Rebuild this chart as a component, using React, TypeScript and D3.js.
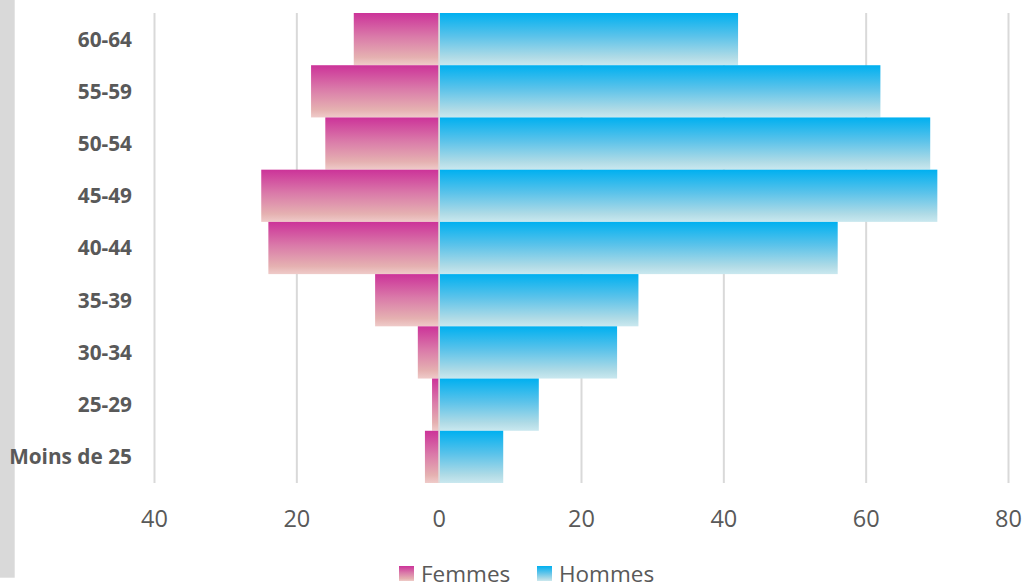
import React from "react";
import * as d3 from "d3";

const categories = ["60-64", "55-59", "50-54", "45-49", "40-44", "35-39", "30-34", "25-29", "Moins de 25"];
const femmes = [12, 18, 16, 25, 24, 9, 3, 1, 2];
const hommes = [42, 62, 69, 70, 56, 28, 25, 14, 9];
const tickValues = [-40, -20, 0, 20, 40, 60, 80];
const seriesNames = ["Femmes", "Hommes"];

const W = 1022;
const H = 583;
const TEXT = "#595959";
const GRID = "#d9d9d9";
const FONT = "'Open Sans', 'DejaVu Sans', sans-serif";

export default function App() {
  const x = d3.scaleLinear().domain([-40, 80]).range([154.5, 1008.5]);
  const y = d3.scaleBand().domain(categories).range([13, 483]).padding(0);
  const bw = y.bandwidth();
  const [top, bottom] = y.range();

  return (
    <svg
      width={W}
      height={H}
      style={{ position: "absolute", left: 0, top: 0, background: "#fff" }}
    >
      <defs>
        <linearGradient id="gradF" x1="0" y1="0" x2="0" y2="1">
          <stop offset="0" stopColor="#cc3399" />
          <stop offset="0.45" stopColor="#da7aa9" />
          <stop offset="0.85" stopColor="#e5b1b1" />
          <stop offset="1" stopColor="#efcbc9" />
        </linearGradient>
        <linearGradient id="gradH" x1="0" y1="0" x2="0" y2="1">
          <stop offset="0" stopColor="#00b0f0" />
          <stop offset="0.45" stopColor="#5cc3ea" />
          <stop offset="0.85" stopColor="#b0dbe6" />
          <stop offset="1" stopColor="#cae8ef" />
        </linearGradient>
      </defs>

      {/* grey strip along the left edge */}
      <rect x={0} y={0} width={14.7} height={577.7} fill="#d9d9d9" />

      {/* vertical gridlines */}
      {tickValues.map((t) => (
        <line key={"g" + t} x1={x(t)} x2={x(t)} y1={top} y2={bottom} stroke={GRID} strokeWidth={2} />
      ))}

      {/* women to the left of zero */}
      {categories.map((c, i) => (
        <rect key={"f" + c} x={x(-femmes[i])} y={y(c)} width={x(0) - x(-femmes[i]) - 0.5} height={bw} fill="url(#gradF)" />
      ))}

      {/* men to the right of zero */}
      {categories.map((c, i) => (
        <rect key={"h" + c} x={x(0) + 0.5} y={y(c)} width={x(hommes[i]) - x(0) - 0.5} height={bw} fill="url(#gradH)" />
      ))}

      {/* zero axis */}
      <line x1={x(0)} x2={x(0)} y1={top} y2={bottom} stroke="#dcdcdc" strokeWidth={1.5} />

      {/* category labels */}
      {categories.map((c) => (
        <text
          key={"l" + c}
          x={132}
          y={y(c)! + bw / 2}
          dy="0.36em"
          textAnchor="end"
          fontFamily={FONT}
          fontWeight={700}
          fontSize={20.8}
          fill={TEXT}
        >
          {c}
        </text>
      ))}

      {/* value axis labels */}
      {tickValues.map((t) => (
        <text key={"t" + t} x={x(t)} y={527} textAnchor="middle" fontFamily={FONT} fontSize={23.5} fill={TEXT}>
          {Math.abs(t)}
        </text>
      ))}

      {/* legend */}
      {seriesNames.map((n, i) => {
        const lx = i === 0 ? 399 : 537;
        return (
          <g key={"leg" + n}>
            <rect x={lx} y={566} width={15} height={15} fill={i === 0 ? "url(#gradF)" : "url(#gradH)"} />
            <text x={lx + 22} y={581.5} fontFamily={FONT} fontSize={22.5} fill={TEXT}>
              {n}
            </text>
          </g>
        );
      })}
    </svg>
  );
}
